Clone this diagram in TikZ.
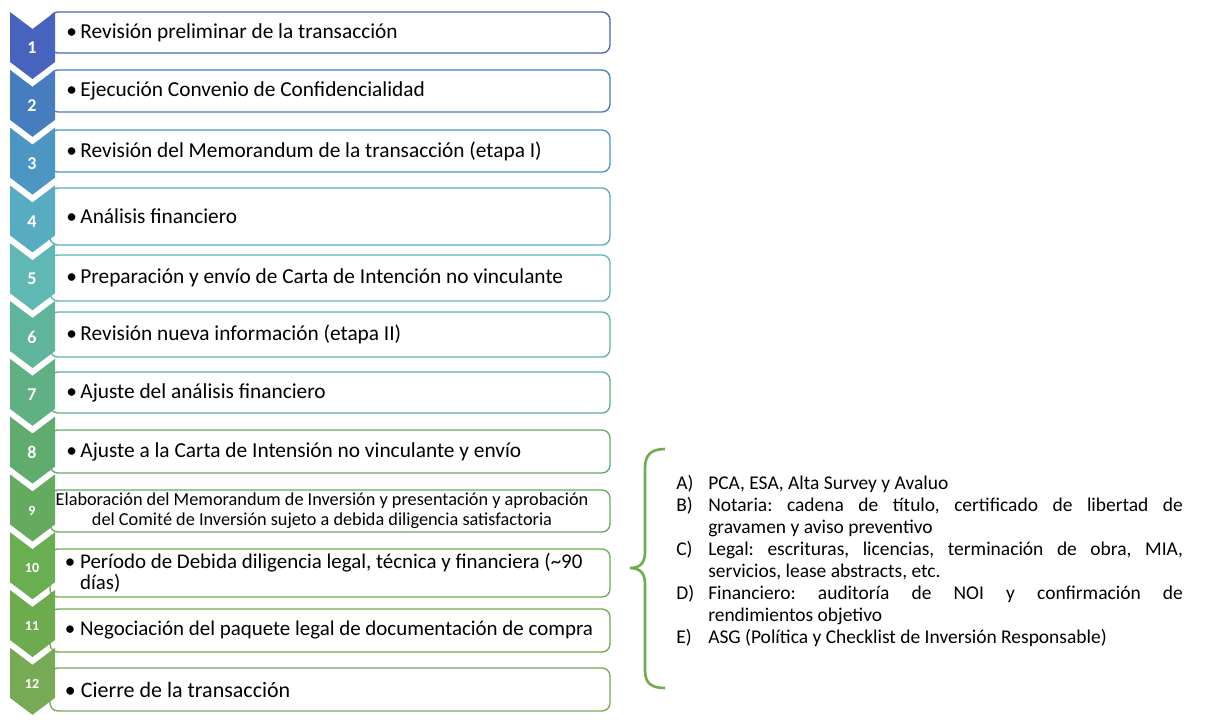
\documentclass[tikz,border=0pt]{standalone}
\usepackage{fontspec}
\setmainfont{Carlito}
\usetikzlibrary{positioning}
\definecolor{step1}{RGB}{70,100,190}
\definecolor{step2}{RGB}{70,125,190}
\definecolor{step3}{RGB}{76,150,195}
\definecolor{step4}{RGB}{88,172,194}
\definecolor{step5}{RGB}{95,184,180}
\definecolor{step6}{RGB}{95,180,155}
\definecolor{step7}{RGB}{95,176,130}
\definecolor{step8}{RGB}{96,171,110}
\definecolor{step9}{RGB}{100,170,95}
\definecolor{step10}{RGB}{105,174,80}
\definecolor{step11}{RGB}{110,170,78}
\definecolor{step12}{RGB}{120,170,85}
\definecolor{bracegreen}{RGB}{115,172,80}
\tikzset{
        stepbox/.style={draw=#1, fill=white, line width=1pt, rounded corners=6pt,
            minimum width=420pt, inner sep=0pt},
        stepbox/.default=step1,
        steptext/.style={anchor=west, inner sep=0pt, align=left,
            font=\fontsize{16}{15.75}\selectfont},
        stepnum/.style={text=white, inner sep=0pt},
    }

\begin{document}
\begin{tikzpicture}[x=0.75pt, y=-0.75pt]
    \useasboundingbox (0,0) rectangle (1212,726);
    % boxes
    \foreach \i/\yc/\h in {1/32.5/41, 2/91/42, 3/151/42, 4/216.5/57, 5/278/46, 6/334.5/45,
                           7/392.5/41, 8/451.5/43, 9/511/42, 10/573/48, 11/630.5/43, 12/689.5/43}
    {
        \node[stepbox=step\i, minimum height=\h*0.75pt] (box\i) at (330,\yc) {};
    }
    % chevrons
    \foreach \i in {1,...,12}
    {
        \pgfmathsetmacro\t{12+57.8*(\i-1)}
        \pgfmathsetmacro\numsize{\i<9 ? 13.5 : 10.5}
        \fill[step\i] (10,\t) -- (32.5,\t+17) -- (55,\t) -- (55,\t+50)
                      -- (32.5,\t+67) -- (10,\t+50) -- cycle;
        \node[stepnum, font=\bfseries\fontsize{\numsize}{\numsize}\selectfont] (num\i) at (32,\t+36) {\i};
    }
    % texts
    \node[steptext, right=12.5pt of box1.west] (txt1) {\textbullet\,Revisión preliminar de la transacción};
    \node[steptext, right=12.5pt of box2.west] (txt2) {\textbullet\,Ejecución Convenio de Confidencialidad};
    \node[steptext, right=12.5pt of box3.west] (txt3) {\textbullet\,Revisión del Memorandum de la transacción (etapa I)};
    \node[steptext, right=12.5pt of box4.west] (txt4) {\textbullet\,Análisis financiero};
    \node[steptext, right=12.5pt of box5.west] (txt5) {\textbullet\,Preparación y envío de Carta de Intención no vinculante};
    \node[steptext, right=12.5pt of box6.west] (txt6) {\textbullet\,Revisión nueva información (etapa II)};
    \node[steptext, right=12.5pt of box7.west] (txt7) {\textbullet\,Ajuste del análisis financiero};
    \node[steptext, right=12.5pt of box8.west] (txt8) {\textbullet\,Ajuste a la Carta de Intensión no vinculante y envío};
    \node[steptext, align=center, anchor=center, font=\fontsize{13.7}{15}\selectfont]
        (txt9) at ([xshift=-6pt]box9.center) {Elaboración del Memorandum de Inversión y presentación y aprobación\\
        del Comité de Inversión sujeto a debida diligencia satisfactoria};
    \node[steptext, right=11.5pt of box10.west, font=\fontsize{15.7}{15.75}\selectfont] (txt10)
        {\textbullet\ Período de Debida diligencia legal, técnica y financiera (\textasciitilde90\\
        \hphantom{\textbullet\ }días)};
    \node[steptext, right=11.5pt of box11.west, font=\fontsize{15.7}{15.75}\selectfont] (txt11)
        {\textbullet\ Negociación del paquete legal de documentación de compra};
    \node[steptext, right=11.5pt of box12.west, font=\fontsize{16.5}{15.75}\selectfont] (txt12)
        {\textbullet\ Cierre de la transacción};
    % brace
    \coordinate (tip) at (630,568);
    \draw[bracegreen, line width=2pt] (665,449) .. controls (651,449) and (645,455) .. (645,468)
        -- (645,552) .. controls (645,563) and (640,568) .. (tip)
        .. controls (640,568) and (645,573) .. (645,584)
        -- (645,670) .. controls (645,683) and (651,688) .. (665,688);
    % checklist
    \node[anchor=base west, inner sep=0pt, text width=380pt, align=justify,
          font=\fontsize{14.6}{16.5}\selectfont] (checklist) at (676,489) {%
        \hyphenpenalty=10000\parindent=0pt\frenchspacing
        \hangindent=24pt\hangafter=1\makebox[24pt][l]{A)}PCA, ESA, Alta Survey y Avaluo\par
        \hangindent=24pt\hangafter=1\makebox[24pt][l]{B)}Notaria: cadena de título, certificado de libertad de\linebreak
            gravamen y aviso preventivo\par
        \hangindent=24pt\hangafter=1\makebox[24pt][l]{C)}Legal: escrituras, licencias, terminación de obra, MIA,\linebreak
            servicios, lease abstracts, etc.\par
        \hangindent=24pt\hangafter=1\makebox[24pt][l]{D)}Financiero: auditoría de NOI y confirmación de\linebreak
            rendimientos objetivo\par
        \hangindent=24pt\hangafter=1\makebox[24pt][l]{E)}ASG (Política y Checklist de Inversión Responsable)};
\end{tikzpicture}
\end{document}
